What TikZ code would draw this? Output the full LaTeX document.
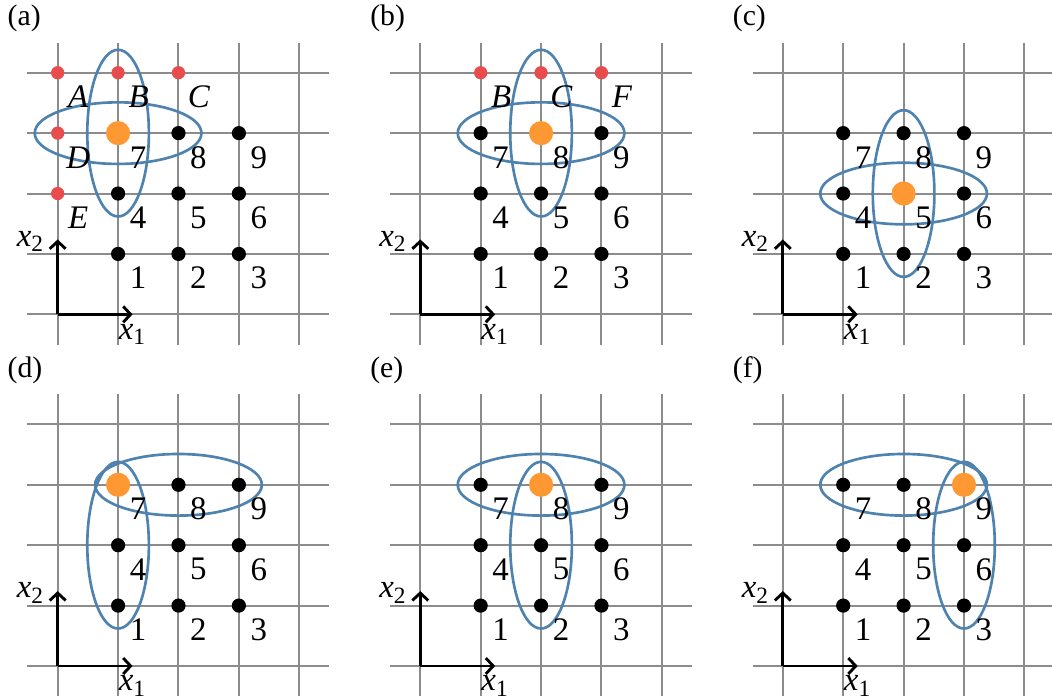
\documentclass[tikz,border=0pt]{standalone}
\usepackage{fontspec}
\setmainfont{Liberation Serif}
\usetikzlibrary{arrows.meta}
\definecolor{gridgray}{RGB}{140,140,140}
\definecolor{ellblue}{RGB}{78,130,175}
\definecolor{dotred}{RGB}{232,76,76}
\definecolor{dotorange}{RGB}{253,152,51}
\tikzset{
 gridline/.style={draw=gridgray, line width=0.95pt},
 axisline/.style={line width=1.35pt, -{Straight Barb[length=3.5pt,width=7.5pt]}},
 ell/.style={draw=ellblue, line width=1.25pt},
 bdot/.style={circle, fill=black, inner sep=0pt, minimum size=0.235cm},
 rdot/.style={circle, fill=dotred, inner sep=0pt, minimum size=0.22cm},
 odot/.style={circle, fill=dotorange, inner sep=0pt, minimum size=0.4cm},
 lbl/.style={font=\fontsize{15.5}{15.5}\selectfont, inner sep=0pt},
 plbl/.style={font=\fontsize{14}{14}\selectfont, inner sep=0pt, anchor=west},
}
\newcommand{\xsub}[1]{\textit{x}\raisebox{-0.35ex}{\fontsize{11}{11}\selectfont #1}}
% #1 prefix, #2 label, #3 orange index, #4 horiz ellipse centre, #5 vert ellipse centre
\newcommand{\drawpanel}[5]{%
 \foreach \i in {0,...,4} {
   \draw[gridline] (\i,-0.5) -- (\i,4.5);
   \draw[gridline] (-0.5,\i) -- (4.5,\i);
 }
 \coordinate (#1o) at (0,0);
 \coordinate (#1xe) at (1.24,0);
 \coordinate (#1ye) at (0,1.24);
 \draw[axisline] (#1o) -- (#1xe);
 \draw[axisline] (#1o) -- (#1ye);
 \node[lbl] (#1xl) at (1.23,-0.33) {\xsub{1}};
 \node[lbl] (#1yl) at (-0.46,1.21) {\xsub{2}};
 \node[plbl] (#1t) at (-0.834,4.9) {#2};
 \draw[ell] #4 ellipse [x radius=1.38cm, y radius=0.51cm];
 \draw[ell] #5 ellipse [x radius=0.51cm, y radius=1.38cm];
 \foreach \n/\x/\y in {1/1/1,2/2/1,3/3/1,4/1/2,5/2/2,6/3/2,7/1/3,8/2/3,9/3/3} {
   \ifnum\n=#3
     \node[odot] (#1p\n) at (\x,\y) {};
   \else
     \node[bdot] (#1p\n) at (\x,\y) {};
   \fi
   \node[lbl] (#1l\n) at (\x+0.33,\y-0.4) {\n};
 }
}
\newcommand{\reddot}[5]{% prefix, name, x, y, letter
 \node[rdot] (#1#2) at (#3,#4) {};
 \node[lbl] (#1#2l) at (#3+0.34,#4-0.4) {\textit{#5}};
}
\begin{document}
\begin{tikzpicture}
\useasboundingbox (0,0) rectangle (17.417,-11.589);
\begin{scope}[shift={(0.955,-5.204)}]
 \drawpanel{a}{(a)}{7}{(1,3)}{(1,3)}
 \reddot{a}{rA}{0}{4}{A}
 \reddot{a}{rB}{1}{4}{B}
 \reddot{a}{rC}{2}{4}{C}
 \reddot{a}{rD}{0}{3}{D}
 \reddot{a}{rE}{0}{2}{E}
\end{scope}
\begin{scope}[shift={(6.958,-5.204)}]
 \drawpanel{b}{(b)}{8}{(2,3)}{(2,3)}
 \reddot{b}{rB}{1}{4}{B}
 \reddot{b}{rC}{2}{4}{C}
 \reddot{b}{rF}{3}{4}{F}
\end{scope}
\begin{scope}[shift={(12.96,-5.204)}]
 \drawpanel{c}{(c)}{5}{(2,2)}{(2,2)}
\end{scope}
\begin{scope}[shift={(0.955,-11.026)}]
 \drawpanel{d}{(d)}{7}{(2,3)}{(1,2)}
\end{scope}
\begin{scope}[shift={(6.958,-11.026)}]
 \drawpanel{e}{(e)}{8}{(2,3)}{(2,2)}
\end{scope}
\begin{scope}[shift={(12.96,-11.026)}]
 \drawpanel{f}{(f)}{9}{(2,3)}{(3,2)}
\end{scope}
\end{tikzpicture}
\end{document}
